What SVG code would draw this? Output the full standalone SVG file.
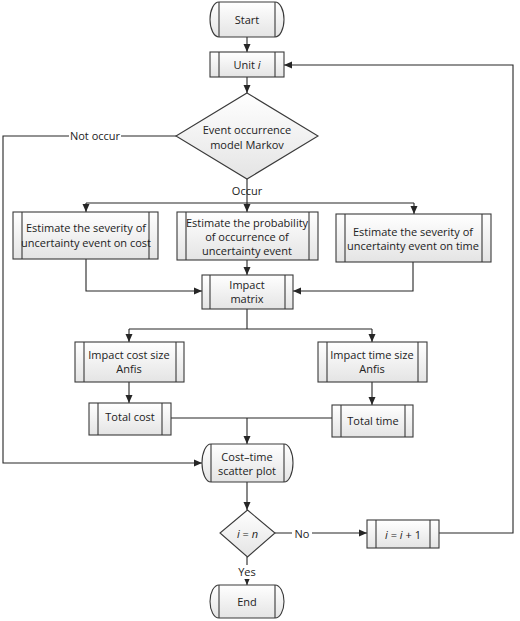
<svg xmlns="http://www.w3.org/2000/svg" width="520" height="621" viewBox="0 0 520 621">
<defs>
<linearGradient id="g" x1="0" y1="0" x2="0" y2="1">
<stop offset="0" stop-color="#ffffff"/>
<stop offset="1" stop-color="#e4e4e4"/>
</linearGradient>
<marker id="ah" viewBox="0 0 8 8" refX="8" refY="4" markerWidth="8" markerHeight="8" markerUnits="userSpaceOnUse" orient="auto">
<path d="M0,0.5 L8,4 L0,7.5 Z" fill="#262626"/>
</marker>
</defs>
<style>
.s{fill:url(#g);stroke:#3a3a3a;stroke-width:1.1}
.il{stroke:#3a3a3a;stroke-width:1.1;fill:none}
.c{stroke:#262626;stroke-width:1.1;fill:none}
.a{marker-end:url(#ah)}
text{font-family:"Open Sans","Noto Sans",sans-serif;font-size:11px;fill:#222;text-anchor:middle;dominant-baseline:central}
.lb{fill:#fff}
</style>
<g id="connectors">
<path class="c a" d="M247,37 V52"/>
<path class="c a" d="M247,77 V93"/>
<path class="c" d="M247,179 V203"/>
<path class="c" d="M86,203 H414"/>
<path class="c a" d="M86,203 V212"/>
<path class="c a" d="M247,203 V212"/>
<path class="c a" d="M414,203 V214"/>
<path class="c a" d="M247,260 V275"/>
<path class="c a" d="M86,259 V291 H202"/>
<path class="c a" d="M413,262 V291 H293"/>
<path class="c" d="M247,309 V329"/>
<path class="c" d="M129,329 H372"/>
<path class="c a" d="M129,329 V342"/>
<path class="c a" d="M372,329 V342"/>
<path class="c a" d="M129,382 V403"/>
<path class="c a" d="M372,382 V405"/>
<path class="c" d="M171,418 H332"/>
<path class="c a" d="M247,418 V444"/>
<path class="c a" d="M177,136 H3 V463 H202"/>
<path class="c a" d="M247,482 V510"/>
<path class="c a" d="M275,533 H367"/>
<path class="c a" d="M439,533 H513 V65 H284"/>
<path class="c a" d="M247,557 V585"/>
<rect class="lb" x="69" y="128" width="52" height="16"/>
<text x="95" y="135">Not occur</text>
<text x="247" y="190">Occur</text>
<rect class="lb" x="292" y="526" width="20" height="15"/>
<text x="302" y="533">No</text>
<rect class="lb" x="236" y="565" width="23" height="14"/>
<text x="247" y="571">Yes</text>
</g>
<g id="start">
<path class="s" d="M219,2 H275 A9,17.5 0 0 1 275,37 H219 A9,17.5 0 0 1 219,2 Z"/>
<path class="il" d="M219,2 V37 M275,2 V37"/>
<text x="247" y="19">Start</text>
</g>
<g id="unit">
<rect class="s" x="210" y="52" width="74" height="25"/>
<path class="il" d="M219,52 V77 M275,52 V77"/>
<text x="247" y="64">Unit <tspan font-style="italic">i</tspan></text>
</g>
<g id="markov">
<path class="s" d="M247,93 L318,136 L247,179 L176,136 Z"/>
<text x="247" y="129">Event occurrence</text>
<text x="247" y="144">model Markov</text>
</g>
<g id="sev-cost">
<rect class="s" x="13" y="212" width="145" height="47"/>
<path class="il" d="M22,212 V259 M149,212 V259"/>
<text x="86" y="227">Estimate the severity of</text>
<text x="86" y="242">uncertainty event on cost</text>
</g>
<g id="prob">
<rect class="s" x="177" y="212" width="141" height="48"/>
<path class="il" d="M186,212 V260 M309,212 V260"/>
<text x="247" y="222">Estimate the probability</text>
<text x="247" y="236">of occurrence of</text>
<text x="247" y="250">uncertainty event</text>
</g>
<g id="sev-time">
<rect class="s" x="336" y="214" width="155" height="48"/>
<path class="il" d="M345,214 V262 M482,214 V262"/>
<text x="413" y="231">Estimate the severity of</text>
<text x="413" y="245">uncertainty event on time</text>
</g>
<g id="impact">
<rect class="s" x="202" y="275" width="91" height="34"/>
<path class="il" d="M210,275 V309 M285,275 V309"/>
<text x="247" y="284">Impact</text>
<text x="247" y="298">matrix</text>
</g>
<g id="cost-anfis">
<rect class="s" x="75" y="342" width="109" height="40"/>
<path class="il" d="M84,342 V382 M176,342 V382"/>
<text x="129" y="354">Impact cost size</text>
<text x="129" y="368">Anfis</text>
</g>
<g id="time-anfis">
<rect class="s" x="318" y="342" width="109" height="40"/>
<path class="il" d="M327,342 V382 M418,342 V382"/>
<text x="372" y="354">Impact time size</text>
<text x="372" y="368">Anfis</text>
</g>
<g id="total-cost">
<rect class="s" x="89" y="403" width="82" height="32"/>
<path class="il" d="M98,403 V435 M162,403 V435"/>
<text x="130" y="416">Total cost</text>
</g>
<g id="total-time">
<rect class="s" x="332" y="405" width="81" height="32"/>
<path class="il" d="M341,405 V437 M405,405 V437"/>
<text x="373" y="420">Total time</text>
</g>
<g id="scatter">
<path class="s" d="M211,444 H284 A9,19 0 0 1 284,482 H211 A9,19 0 0 1 211,444 Z"/>
<path class="il" d="M211,444 V482 M284,444 V482"/>
<text x="247" y="456">Cost–time</text>
<text x="247" y="470">scatter plot</text>
</g>
<g id="check">
<path class="s" d="M247.5,510 L275,533 L247.5,557 L220,533 Z"/>
<text x="247.5" y="533" font-style="italic"><tspan>i</tspan><tspan font-style="normal"> = </tspan><tspan>n</tspan></text>
</g>
<g id="increment">
<rect class="s" x="367" y="520" width="72" height="28"/>
<path class="il" d="M376,520 V548 M430,520 V548"/>
<text x="403" y="534"><tspan font-style="italic">i</tspan> = <tspan font-style="italic">i</tspan> + 1</text>
</g>
<g id="end">
<path class="s" d="M219,585 H275 A9,16.5 0 0 1 275,618 H219 A9,16.5 0 0 1 219,585 Z"/>
<path class="il" d="M219,585 V618 M275,585 V618"/>
<text x="247" y="601">End</text>
</g>
</svg>
